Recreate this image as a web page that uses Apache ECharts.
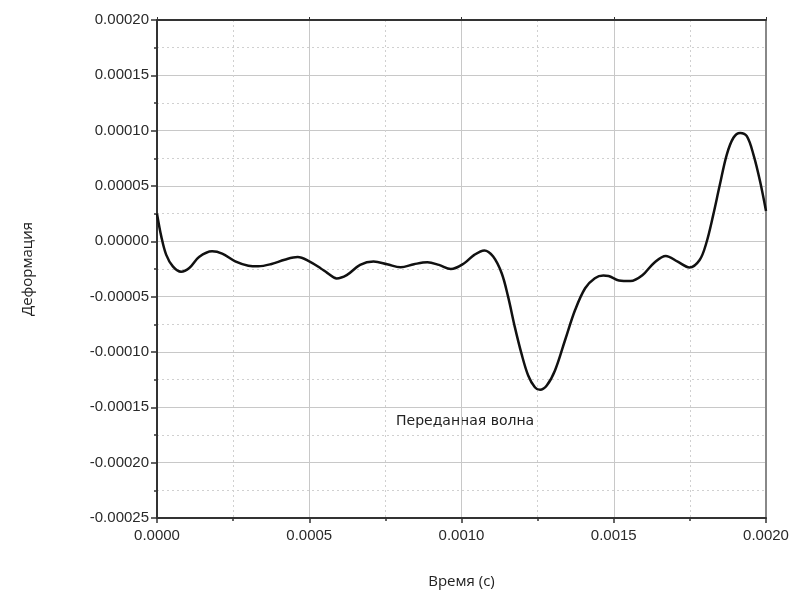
<!DOCTYPE html>
<html>
<head>
<meta charset="utf-8">
<script src="https://cdn.jsdelivr.net/npm/echarts@6/dist/echarts.min.js"></script>
<style>html,body{margin:0;padding:0;background:#fff;}#chart{width:799px;height:599px;}</style>
</head>
<body>
<div id="chart"></div>
<script>
const timeValues = [0, 0.000014, 0.00003, 0.000052, 0.000079, 0.000106, 0.000138, 0.000181, 0.000214, 0.000257, 0.0003, 0.000333, 0.000376, 0.000419, 0.000462, 0.0005, 0.000538, 0.000559, 0.00059, 0.000623, 0.000667, 0.000711, 0.000756, 0.0008, 0.000844, 0.000888, 0.000926, 0.000965, 0.001009, 0.001042, 0.001075, 0.001104, 0.001132, 0.001153, 0.001175, 0.001197, 0.001219, 0.001241, 0.001258, 0.00128, 0.001307, 0.00134, 0.001373, 0.001406, 0.001438, 0.001466, 0.001483, 0.001517, 0.001555, 0.001594, 0.001633, 0.001671, 0.00171, 0.001749, 0.001782, 0.001804, 0.001826, 0.001848, 0.001871, 0.001893, 0.001915, 0.001937, 0.001959, 0.001981, 0.002];
const strainValues = [0.000025, 0.0000045, -0.000012, -0.0000226, -0.0000274, -0.0000241, -0.0000142, -0.000009, -0.0000111, -0.0000181, -0.000022, -0.0000226, -0.0000205, -0.0000166, -0.0000142, -0.0000181, -0.0000245, -0.0000285, -0.0000335, -0.0000305, -0.0000213, -0.0000183, -0.0000207, -0.0000235, -0.0000207, -0.0000189, -0.0000213, -0.000025, -0.0000198, -0.0000122, -0.0000082, -0.0000137, -0.0000288, -0.00005, -0.0000773, -0.0001015, -0.0001212, -0.0001318, -0.0001342, -0.0001303, -0.0001167, -0.0000894, -0.0000621, -0.0000424, -0.0000333, -0.0000309, -0.0000313, -0.0000353, -0.0000359, -0.0000307, -0.0000193, -0.0000132, -0.0000184, -0.0000236, -0.0000169, -0.0000015, 0.000023, 0.0000506, 0.0000782, 0.0000936, 0.000098, 0.0000951, 0.0000782, 0.0000537, 0.0000275];
const xTicks = {min: 0, max: 0.002, interval: 0.0005};
const yTicks = {min: -0.00025, max: 0.0002, interval: 0.00005};
const xTitle = 'Время (с)';
const yTitle = 'Деформация';
const seriesLabel = 'Переданная волна';

const data = timeValues.map((t, i) => [t, strainValues[i]]);
const chart = echarts.init(document.getElementById('chart'));
const fmtY = v => { const s = v.toFixed(5); return s === '-0.00000' ? '0.00000' : s; };
const fmtX = v => v.toFixed(4);
const labelFont = {fontFamily: 'Liberation Sans, Arial, sans-serif', fontSize: 15, color: '#2a2a2a'};
chart.setOption({
  animation: false,
  backgroundColor: '#fff',
  grid: {left: 157, right: 33, top: 20, bottom: 81, containLabel: false},
  xAxis: [{
    type: 'value', min: xTicks.min, max: xTicks.max, interval: xTicks.interval,
    name: xTitle, nameLocation: 'middle', nameGap: 56,
    nameTextStyle: {fontFamily: 'Open Sans, sans-serif', fontSize: 15, color: '#222'},
    axisLine: {show: true, onZero: false, lineStyle: {color: '#333', width: 2}},
    axisTick: {show: true, length: 5, lineStyle: {color: '#333', width: 1.5}},
    minorTick: {show: true, splitNumber: 2, length: 3, lineStyle: {color: '#333', width: 1.5}},
    axisLabel: Object.assign({margin: 10, formatter: fmtX}, labelFont),
    splitLine: {show: true, lineStyle: {color: '#c8c8c8', width: 1}},
    minorSplitLine: {show: true, lineStyle: {color: '#d0d0d0', width: 1, type: [2, 3]}}
  }, {
    type: 'value', position: 'top', min: xTicks.min, max: xTicks.max, interval: xTicks.interval,
    axisLine: {show: true, onZero: false, lineStyle: {color: '#333', width: 2}},
    axisTick: {show: true, inside: false, length: 3, lineStyle: {color: '#333'}},
    minorTick: {show: false}, axisLabel: {show: false}, splitLine: {show: false}
  }],
  yAxis: [{
    type: 'value', min: yTicks.min, max: yTicks.max, interval: yTicks.interval,
    name: yTitle, nameLocation: 'middle', nameGap: 122, nameRotate: 90,
    nameTextStyle: {fontFamily: 'Open Sans, sans-serif', fontSize: 15, color: '#222'},
    axisLine: {show: true, onZero: false, lineStyle: {color: '#333', width: 2}},
    axisTick: {show: true, length: 6, lineStyle: {color: '#333', width: 1.5}},
    minorTick: {show: true, splitNumber: 2, length: 3, lineStyle: {color: '#333', width: 1.5}},
    axisLabel: Object.assign({margin: 8, formatter: fmtY}, labelFont),
    splitLine: {show: true, lineStyle: {color: '#c8c8c8', width: 1}},
    minorSplitLine: {show: true, lineStyle: {color: '#d0d0d0', width: 1, type: [2, 3]}}
  }, {
    type: 'value', position: 'right', min: yTicks.min, max: yTicks.max, interval: yTicks.interval,
    axisLine: {show: true, onZero: false, lineStyle: {color: '#888', width: 2}},
    axisTick: {show: false}, axisLabel: {show: false}, splitLine: {show: false}
  }],
  series: [{
    name: seriesLabel, type: 'line', data: data, smooth: 0.35, showSymbol: false,
    lineStyle: {color: '#111', width: 2.5}, z: 5
  }],
  graphic: [{
    type: 'text', left: 396, top: 414,
    style: {text: seriesLabel, fontFamily: 'DejaVu Sans, sans-serif', fontSize: 14, fill: '#222'}
  }]
});
</script>
</body>
</html>
